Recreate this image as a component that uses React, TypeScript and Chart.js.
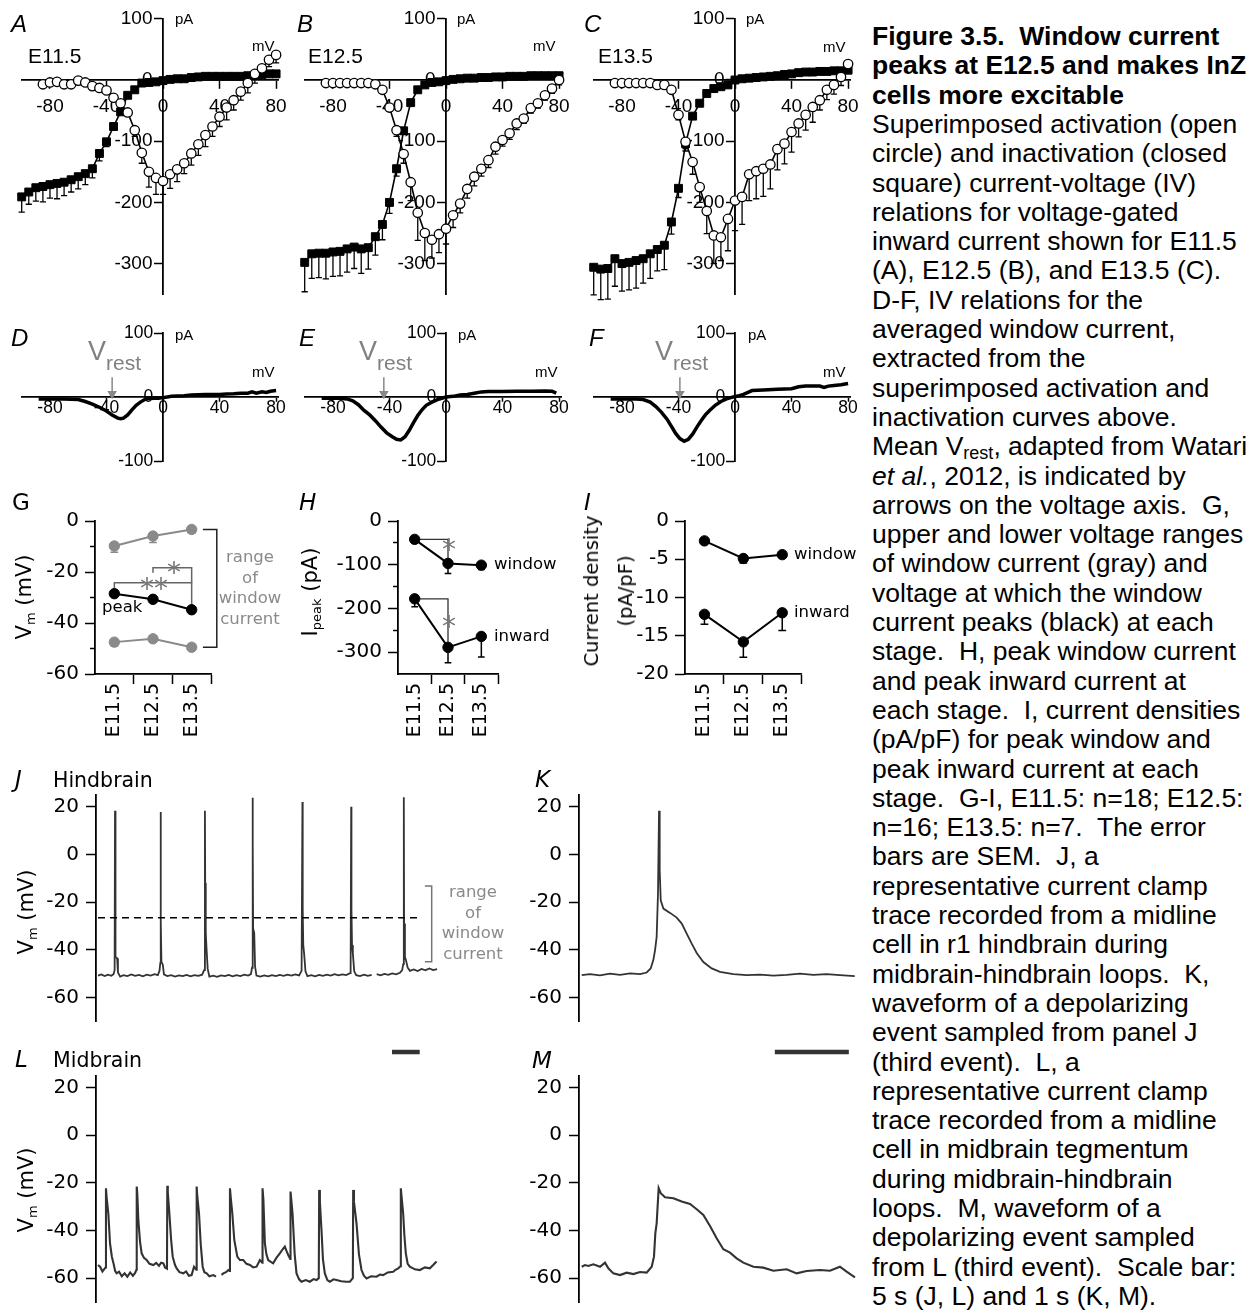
import React, { useEffect, useRef } from 'react';
import { Chart, registerables } from 'chart.js';
Chart.register(...registerables);

const SANS = '"Liberation Sans", Arial, Helvetica, sans-serif';
const DV = '"DejaVu Sans", Verdana, sans-serif';
const GRAY = '#8a8a8a';

// ---------------- A–C : activation (open circles) / inactivation (squares) ----------------
const vAct = [-85, -80, -75, -70, -65, -60, -55, -50, -45, -40, -35, -30, -25, -20, -15, -10, -5, 0, 5, 10, 15, 20, 25, 30, 35, 40, 45, 50, 55, 60, 65, 70, 75, 80];
const vInact = [-100, -95, -90, -85, -80, -75, -70, -65, -60, -55, -50, -45, -40, -35, -30, -25, -20, -15, -10, -5, 0, 5, 10, 15, 20, 25, 30, 35, 40, 45, 50, 55, 60, 65, 70, 75, 80];
const ivXTicks = [-80, -40, 0, 40, 80];
const ivYTicks = [100, 0, -100, -200, -300];

const aAct = [-7, -4, -3, -7, -7, -1, -4, -10, -13, -17, -29, -38, -53, -82, -119, -150, -160, -165, -154, -146, -136, -120, -105, -90, -76, -60, -45, -33, -19, -5, 10, 19, 33, 41];
const aActErr = [0, 0, 0, 0, 0, 0, 0, 2, 2, 3, 4, 5, 6, 10, 17, 25, 27, 22, 23, 20, 17, 19, 18, 19, 16, 16, 20, 16, 14, 16, 15, 12, 11, 13];
const aInact = [-191, -183, -176, -174, -171, -169, -167, -163, -158, -153, -145, -120, -101, -76, -52, -25, -16, -5, -4, -3, -1, 1, 2, 2, 4, 5, 6, 6, 6, 6, 6, 6, 7, 8, 9, 10, 10];
const aInactErr = [25, 20, 22, 25, 22, 25, 22, 20, 20, 18, 15, 12, 8, 5, 3, 2, 0, 0, 0, 0, 0, 0, 0, 0, 0, 0, 0, 0, 0, 0, 0, 0, 0, 0, 0, 0, 0];

const bAct = [-5, -5, -5, -5, -5, -5, -5, -7, -16, -45, -82, -121, -167, -217, -250, -261, -252, -243, -221, -202, -178, -158, -145, -131, -109, -98, -87, -71, -63, -46, -38, -25, -14, 0];
const bActErr = [0, 0, 0, 0, 0, 0, 0, 2, 4, 6, 10, 15, 30, 45, 45, 30, 30, 25, 20, 15, 15, 15, 12, 12, 12, 10, 10, 10, 8, 8, 8, 8, 8, 8];
const bInact = [-298, -284, -283, -283, -281, -280, -276, -273, -276, -274, -256, -236, -200, -145, -83, -37, -16, -8, -4, -3, -1, 1, 2, 3, 3, 4, 4, 5, 5, 6, 6, 6, 7, 7, 7, 7, 7];
const bInactErr = [48, 40, 40, 42, 40, 40, 38, 35, 40, 35, 30, 25, 18, 12, 6, 3, 2, 0, 0, 0, 0, 0, 0, 0, 0, 0, 0, 0, 0, 0, 0, 0, 0, 0, 0, 0, 0];

const cAct = [-5, -5, -5, -5, -5, -5, -8, -8, -16, -57, -101, -134, -175, -214, -254, -257, -227, -197, -191, -154, -149, -145, -138, -113, -104, -85, -71, -57, -44, -33, -16, -8, 5, 26];
const cActErr = [0, 0, 0, 0, 0, 0, 0, 0, 3, 8, 15, 20, 25, 37, 46, 38, 52, 49, 45, 43, 45, 45, 40, 34, 33, 33, 22, 25, 25, 16, 16, 15, 14, 14];
const cInact = [-306, -309, -308, -292, -300, -298, -295, -292, -284, -277, -270, -232, -177, -104, -59, -38, -22, -14, -11, -8, 0, 2, 3, 4, 5, 6, 7, 9, 10, 12, 13, 13, 14, 14, 15, 15, 16];
const cInactErr = [45, 50, 50, 45, 45, 45, 45, 40, 40, 35, 40, 20, 15, 8, 5, 3, 2, 0, 0, 0, 0, 0, 0, 0, 0, 0, 0, 0, 0, 0, 0, 0, 0, 0, 0, 0, 0];

// ---------------- D–F : window current ----------------
const winYTicks = [100, 0, -100];
const dV = [-88, -84, -80, -75, -70, -65, -60, -55, -50, -45, -40, -36, -32, -30, -28, -25, -22, -19, -16, -13, -10, -6, -3, 0, 3, 6, 10, 15, 20, 25, 30, 35, 40, 45, 50, 55, 60, 63, 66, 70, 73, 76, 80];
const dI = [-3, -3, -3, -3, -3, -3.5, -4, -7, -11, -16, -22, -28, -33, -34, -33, -28, -20, -13, -8, -4, -2.5, -2, -2, -1, 0, 1, 1.5, 2, 3, 3.5, 4, 4, 4, 4.5, 5, 6, 6, 8, 6, 8, 7, 9, 10];
const eV = [-88, -80, -75, -70, -66, -62, -58, -54, -50, -46, -42, -38, -35, -32, -29, -26, -23, -20, -17, -14, -10, -6, -3, 0, 5, 10, 15, 20, 25, 30, 40, 50, 60, 70, 75, 78];
const eI = [-2, -2, -2, -3, -6, -12, -21, -28, -37, -47, -56, -62, -66, -67, -62, -52, -40, -29, -20, -13, -8, -4, -2, 0, 1, 3, 4, 6, 8, 8.5, 8.5, 9, 9, 9.5, 9, 6];
const fV = [-88, -80, -70, -65, -60, -56, -52, -48, -45, -42, -39, -36, -33, -30, -27, -24, -21, -18, -14, -10, -6, -3, 0, 3, 6, 10, 12, 20, 30, 40, 45, 50, 60, 63, 66, 70, 75, 80];
const fI = [-3, -3, -3, -4, -8, -15, -24, -35, -46, -57, -65, -69, -66, -58, -47, -37, -28, -21, -13, -7, -3, -1, 1, 2, 4, 8, 10, 11, 12, 13, 16, 17, 17, 15, 17, 18, 19, 21];
const vRest = [-36, -44, -39];

// ---------------- G–I : per-stage summaries ----------------
const stages = ['E11.5', 'E12.5', 'E13.5'];
const stageX = [0, 1, 2];
const gUpper = [-9.8, -5.9, -3.3];
const gUpperErr = [2.5, 2.5, 1.5];
const gPeak = [-28.5, -30.7, -34.8];
const gPeakErr = [0.5, 0.5, 0.5];
const gLower = [-47.5, -46.2, -49.5];
const gLowerErr = [1.5, 1.2, 1.0];
const gSigFrom = [0, 1];
const gSigTo = [2, 2];
const gSigLevel = [-24.2, -18.3];
const gSigLeftEnd = [-26.4, -20.3];
const gSigRightEnd = [-33.5, -24.2];

const hWindow = [-42, -97, -101];
const hWindowErr = [3, 23, 10];
const hInward = [-178, -289, -264];
const hInwardErr = [18, 35, 47];

const iWindow = [-2.6, -4.9, -4.4];
const iWindowErr = [0.2, 0.6, 0.2];
const iInward = [-12.2, -15.8, -12.0];
const iInwardErr = [1.3, 2.0, 2.3];

// ---------------- J–M : current clamp traces (time s, Vm mV) ----------------
const jT = [0, 0.6, 1.2, 1.8, 2.4, 2.8, 3.0, 3.07, 3.12, 3.2, 3.45, 3.6, 4.0, 4.6, 5.3, 6.0, 6.7, 7.4, 8.1, 8.8, 9.5, 10.2, 10.8, 11.1, 11.25, 11.3, 11.35, 11.45, 11.7, 11.9, 12.5, 13.2, 13.9, 14.6, 15.3, 16.0, 16.7, 17.4, 18.1, 18.8, 19.15, 19.3, 19.35, 19.45, 19.6, 19.8, 20.1, 20.8, 21.5, 22.2, 22.9, 23.6, 24.3, 25.0, 25.7, 26.4, 27.1, 27.6, 27.8, 27.9, 27.95, 28.0, 28.2, 28.35, 28.6, 29.3, 30.0, 30.7, 31.4, 32.1, 32.8, 33.5, 34.2, 34.9, 35.6, 36.3, 36.75, 36.9, 36.95, 37.05, 37.2, 37.45, 37.8, 38.5, 39.2, 39.9, 40.6, 41.3, 42.0, 42.7, 43.4, 44.1, 44.8, 45.5, 45.6, 45.7, 45.75, 45.85, 46.0, 46.25, 46.6, 47.3, 48.0, 48.7, 49.4, 49.7, 50.3, 51.0, 51.7, 52.4, 53.1, 53.8, 54.5, 54.9, 55.1, 55.2, 55.25, 55.4, 55.6, 55.9, 56.3, 57.0, 57.7, 58.4, 59.1, 59.8, 60.5, 61.2];
const jV = [-50.8, -50.3, -51.0, -50.4, -50.9, -50.2, -48.5, 18.3, -30, -43, -43.5, -49.5, -51.2, -50.6, -51.0, -50.3, -50.9, -50.5, -51.1, -50.4, -50.8, -50.2, -50.6, -48.8, -45.5, 17.8, -28, -45, -46.2, -50.3, -51.0, -50.6, -51.2, -50.7, -51.0, -50.5, -51.1, -50.6, -50.9, -50.4, -48.5, 18.3, -12, -33, -40, -48, -51.2, -50.8, -51.3, -50.7, -51.0, -50.5, -51.1, -50.6, -51.0, -50.4, -50.8, -50.2, -47.5, 23.8, 5, -31, -33, -47, -50.8, -51.2, -50.7, -51.1, -50.6, -51.0, -50.5, -50.9, -50.4, -50.8, -50.3, -50.7, -48.8, 22, -23, -38, -41.5, -49, -51.0, -50.6, -51.1, -50.5, -50.9, -50.4, -50.8, -50.2, -50.7, -50.3, -50.6, -49.8, -48.0, 20, -23, -38, -41.5, -49, -50.6, -51.0, -50.4, -50.9, -50.5, null, -50.2, -50.7, -50.1, -50.5, -49.9, -50.3, -49.6, -48.5, -46, 24, -29, -43, -44.5, -47.5, -48.8, -48.2, -48.9, -48.0, -48.6, -47.8, -48.5, -48.1];
const jDashLevel = -26.5;
const jDashEnd = 57.8;
const jRangeTop = -13.2;
const jRangeBottom = -45;

const kT = [0, 0.112, 0.247, 0.383, 0.518, 0.653, 0.788, 0.878, 0.932, 0.968, 0.991, 1.013, 1.031, 1.045, 1.054, 1.068, 1.104, 1.194, 1.284, 1.352, 1.419, 1.487, 1.554, 1.644, 1.757, 1.869, 2.049, 2.23, 2.41, 2.59, 2.77, 2.95, 3.13, 3.31, 3.49, 3.69];
const kV = [-50.6, -50.2, -50.7, -50.0, -50.5, -49.9, -50.2, -49.5, -47.8, -44.3, -40.2, -34.6, -16.4, 18.3, -6.6, -19.2, -22.7, -24.5, -26.5, -29.0, -33.2, -37.4, -41.3, -45.1, -47.8, -49.2, -50.2, -50.6, -50.4, -50.8, -50.5, -50.0, -50.5, -50.2, -50.6, -51.0];

const lT = [0, 0.4, 0.8, 1.2, 1.38, 1.44, 1.55, 1.87, 2.17, 2.5, 2.77, 3.1, 3.37, 3.8, 4.3, 4.8, 5.3, 5.8, 6.3, 6.7, 6.93, 6.99, 7.1, 7.28, 7.6, 7.88, 8.3, 8.78, 9.3, 9.99, 10.5, 11.0, 11.4, 11.79, 12.1, 12.45, 12.51, 12.6, 12.88, 13.2, 13.48, 13.9, 14.2, 14.7, 15.4, 15.9, 16.4, 16.9, 17.33, 17.75, 17.81, 17.9, 18.23, 18.55, 18.89, 19.2, 19.61, 20.1, 20.82, 21.3, 21.6, 22.3, 22.62, 23.1, 23.52, 23.76, 23.82, 23.95, 24.24, 24.6, 25.14, 25.6, 26.22, 26.8, 27.42, 28.0, 28.62, 29.22, 29.64, 29.7, 29.85, 30.12, 30.4, 30.72, 31.2, 31.62, 32.2, 32.82, 33.3, 33.72, 34.0, 34.33, 34.7, 34.75, 34.88, 35.11, 35.5, 35.83, 36.3, 36.73, 37.5, 38.24, 38.9, 39.44, 39.85, 39.92, 40.05, 40.34, 40.6, 40.94, 41.4, 41.85, 42.5, 43.05, 43.9, 44.86, 45.46, 46.0, 46.06, 46.2, 46.66, 47.1, 47.56, 48.0, 48.47, 49.3, 50.27, 50.9, 51.47, 52.3, 53.28, 53.7, 54.18, 54.6, 54.66, 54.8, 55.08, 55.3, 55.56, 55.9, 56.28, 57.2, 58.09, 59.0, 59.89, 60.5, 61.1];
const lV = [-54.5, -55.3, -57.2, -56.0, -55.5, -22.3, -26, -33, -45.4, -51, -53.5, -57, -58, -57.3, -59.2, -58.0, -59.4, -57.6, -59.0, -57.8, -56.5, -21.6, -25, -35.6, -45, -49.6, -51.5, -52.4, -54.0, -54.5, -53.6, -54.8, -53.5, -53.8, -55.5, -56, -21.3, -24, -32.8, -44, -51, -54.5, -55.9, -57.5, -58.0, -57.2, -59, -58.7, -55.2, -56.5, -21.6, -25, -32.8, -46, -55.2, -57.5, -58.0, -59.2, -58.7, -59.4, null, -58.6, -58.0, -57.5, -56.6, -57, -22.3, -26, -32.8, -44, -51.0, -52.4, -52.4, -54.0, -54.5, -55.5, -55.2, -52.4, -53.5, -22.3, -27, -45.4, -50, -52.4, -53.2, -53.8, -51.5, -49.6, -48.0, -46.8, -48.5, -50.3, -52, -23.7, -27, -32.8, -50, -58.0, -60.5, -61.5, -60.8, -61.5, -60.4, -60.8, -60, -23.0, -28, -39.8, -52, -58.0, -60.8, -61.5, -60.5, -60.8, -61.3, -61.5, -61.5, -60, -23.0, -28, -37.0, -50, -56.6, -59, -60.1, -59.2, -59.4, -58.5, -58.7, -57.6, -57.3, -56.5, -55.9, -55, -22.3, -26, -32.8, -42, -49.6, -54, -55.2, -56.3, -56.6, -55.5, -55.9, -54.5, -53.0];

const mT = [0, 0.045, 0.09, 0.158, 0.248, 0.315, 0.36, 0.428, 0.518, 0.608, 0.698, 0.788, 0.878, 0.946, 0.977, 0.995, 1.013, 1.04, 1.068, 1.126, 1.239, 1.351, 1.464, 1.554, 1.644, 1.734, 1.824, 1.914, 2.004, 2.094, 2.184, 2.32, 2.454, 2.59, 2.77, 2.905, 3.04, 3.22, 3.355, 3.49, 3.58, 3.693];
const mV = [-55.2, -54.5, -54.9, -54.2, -55.2, -53.5, -55.9, -58.0, -58.7, -57.7, -58.3, -57.4, -57.7, -55.2, -51.0, -41.2, -37.0, -22.3, -24.4, -26.1, -26.5, -27.9, -28.9, -31.1, -33.5, -38.1, -43.3, -47.9, -49.3, -51.7, -53.5, -55.2, -55.6, -56.9, -56.3, -58.0, -57.0, -56.6, -56.9, -55.2, -57.3, -59.7];

const vmTicks = [20, 0, -20, -40, -60];
const scaleBarLevel = 34.8;
const barJLStart = 53.07;
const barJLLength = 5;
const barKMStart = 2.61;
const barKMLength = 1;

// ---------------- helpers ----------------
const zeroPad = (s: any) => { s.paddingTop = 0; s.paddingBottom = 0; s.paddingLeft = 0; s.paddingRight = 0; };
const fixedTicks = (vals: number[]) => (s: any) => { s.ticks = vals.map((v) => ({ value: v })); };
const pts = (xs: number[], ys: (number | null)[]) => xs.map((x, i) => ({ x, y: ys[i] }));

function errPts(xs: number[], ys: number[], es: number[], cap: number) {
  const out: any[] = [];
  xs.forEach((x, i) => {
    const e = es[i];
    if (!e) return;
    const yb = ys[i] - e;
    out.push({ x, y: ys[i] }, { x, y: yb }, { x, y: null }, { x: x - cap, y: yb }, { x: x + cap, y: yb }, { x: x + cap, y: null });
  });
  return out;
}

function baseOpts(padding: any) {
  return {
    responsive: false,
    animation: false as const,
    events: [] as any[],
    devicePixelRatio: 1,
    layout: { padding },
    plugins: { legend: { display: false }, tooltip: { enabled: false }, title: { display: false } },
  };
}

const lineDS = (data: any[], color: string, width: number, extra: any = {}) => ({
  data, showLine: true, borderColor: color, borderWidth: width, pointRadius: 0, clip: false as const, ...extra,
});

function ivScales(ymin: number, ymax: number, yt: number[], fs: number, xtl: number, xpad: number) {
  const font = { family: SANS, size: fs };
  return {
    x: {
      type: 'linear', min: -100, max: 82, position: { y: 0 },
      afterBuildTicks: fixedTicks(ivXTicks), afterFit: zeroPad,
      grid: { drawOnChartArea: false, tickLength: xtl, tickColor: '#000', tickWidth: 1.5 },
      border: { color: '#000', width: 1.8 },
      ticks: { font, color: '#000', padding: xpad, maxRotation: 0, autoSkip: false, callback: (v: any) => String(v) },
    },
    y: {
      type: 'linear', min: ymin, max: ymax, position: { x: 0 },
      afterBuildTicks: fixedTicks(yt), afterFit: zeroPad,
      grid: { drawOnChartArea: false, tickLength: 8, tickColor: '#000', tickWidth: 1.5 },
      border: { color: '#000', width: 1.8 },
      ticks: { font, color: '#000', padding: 0, autoSkip: false, callback: (v: any) => v + '  ' },
    },
  };
}

function ivConfig(act: number[], actErr: number[], inact: number[], inactErr: number[], padding: any) {
  return {
    type: 'scatter',
    data: {
      datasets: [
        lineDS(errPts(vInact, inact, inactErr, 2.2), '#000', 1.3, { order: 6 }),
        lineDS(errPts(vAct, act, actErr, 2.2), '#000', 1.3, { order: 5 }),
        lineDS(pts(vInact, inact), '#000', 1.6, { order: 2, pointStyle: 'rect', pointRadius: 5.6, pointBackgroundColor: '#000', pointBorderColor: '#000', pointBorderWidth: 1 }),
        lineDS(pts(vAct, act), '#000', 1.6, { order: 1, pointStyle: 'circle', pointRadius: 4.7, pointBackgroundColor: '#fff', pointBorderColor: '#000', pointBorderWidth: 1.3 }),
      ],
    },
    options: { ...baseOpts(padding), scales: ivScales(-350, 100, ivYTicks, 19, 8, 7) },
  };
}

function winConfig(vs: number[], is: number[], vr: number, padding: any) {
  return {
    type: 'scatter',
    data: {
      datasets: [
        lineDS(pts(vs, is), '#000', 3.5, { order: 1 }),
        lineDS([{ x: vr, y: 31 }, { x: vr, y: 5 }], '#888', 1.5, { order: 2, pointRadius: [0, 4], pointStyle: 'triangle', pointRotation: 180, pointBackgroundColor: '#888', pointBorderColor: '#888' }),
      ],
    },
    options: { ...baseOpts(padding), scales: ivScales(-100, 100, winYTicks, 17.5, 4, -3) },
  };
}

function catScales(ymin: number, ymax: number, major: number[], minor: number[] | null, yWidth: number, xHeight: number) {
  const scales: any = {
    x: {
      type: 'linear', min: -0.5, max: 2.5, position: 'bottom',
      afterBuildTicks: fixedTicks([0, 0.5, 1, 1.5, 2, 2.5]),
      afterFit: (s: any) => { zeroPad(s); s.height = xHeight; },
      grid: { drawOnChartArea: false, tickLength: 10, tickWidth: 1.5, tickColor: (c: any) => (Number.isInteger(c.tick && c.tick.value) ? 'rgba(0,0,0,0)' : '#000') },
      border: { color: '#000', width: 1.8 },
      ticks: { autoSkip: false, minRotation: 90, maxRotation: 90, padding: -1, font: { family: DV, size: 19 }, color: '#000', callback: (v: any) => (Number.isInteger(v) ? stages[v] : '') },
    },
    y: {
      type: 'linear', min: ymin, max: ymax, position: 'left', weight: 10,
      afterBuildTicks: fixedTicks(major),
      afterFit: (s: any) => { zeroPad(s); s.width = yWidth; },
      grid: { drawOnChartArea: false, tickLength: 10, tickWidth: 1.5, tickColor: '#000' },
      border: { color: '#000', width: 1.8 },
      ticks: { padding: 6, autoSkip: false, font: { family: DV, size: 20 }, color: '#000' },
    },
  };
  if (minor) {
    scales.ym = {
      type: 'linear', min: ymin, max: ymax, position: 'left', weight: 0,
      afterBuildTicks: fixedTicks(minor),
      afterFit: (s: any) => { zeroPad(s); s.width = 0; },
      grid: { drawOnChartArea: false, tickLength: 5, tickWidth: 1.5, tickColor: '#000' },
      border: { display: false },
      ticks: { display: false },
    };
  }
  return scales;
}

const dotDS = (ys: number[], color: string) =>
  lineDS(pts(stageX, ys), color, 2, { order: 1, pointRadius: 5.2, pointBackgroundColor: color, pointBorderColor: color, pointBorderWidth: 1 });
const errDS = (ys: number[], es: number[], color: string) => lineDS(errPts(stageX, ys, es, 0.1), color, 1.5, { order: 5 });

function gConfig() {
  const sig = gSigFrom.map((f, i) =>
    lineDS([{ x: f, y: gSigLeftEnd[i] }, { x: f, y: gSigLevel[i] }, { x: gSigTo[i], y: gSigLevel[i] }, { x: gSigTo[i], y: gSigRightEnd[i] }], '#666', 1.5, { order: 3 })
  );
  const range = lineDS([{ x: 2.29, y: gUpper[2] }, { x: 2.65, y: gUpper[2] }, { x: 2.65, y: gLower[2] }, { x: 2.29, y: gLower[2] }], '#222', 1.5, { order: 3 });
  return {
    type: 'scatter',
    data: { datasets: [errDS(gUpper, gUpperErr, GRAY), errDS(gLower, gLowerErr, GRAY), errDS(gPeak, gPeakErr, '#000'), dotDS(gUpper, GRAY), dotDS(gLower, GRAY), dotDS(gPeak, '#000'), ...sig, range] },
    options: { ...baseOpts({ left: 0, top: 21, right: 89, bottom: 5 }), scales: catScales(-60, 0, [0, -20, -40, -60], [-10, -30, -50], 95, 86) },
  };
}

function hConfig() {
  const b1 = lineDS([{ x: 0, y: hWindow[0] }, { x: 1, y: hWindow[0] }, { x: 1, y: hWindow[1] }], '#333', 1.3, { order: 3 });
  const b2 = lineDS([{ x: 0, y: hInward[0] }, { x: 1, y: hInward[0] }, { x: 1, y: hInward[1] }], '#333', 1.3, { order: 3 });
  return {
    type: 'scatter',
    data: { datasets: [errDS(hWindow, hWindowErr, '#000'), errDS(hInward, hInwardErr, '#000'), dotDS(hWindow, '#000'), dotDS(hInward, '#000'), b1, b2] },
    options: { ...baseOpts({ left: 0, top: 21, right: 72, bottom: 5 }), scales: catScales(-350, 0, [0, -100, -200, -300], [-50, -150, -250], 108, 86) },
  };
}

function iConfig() {
  return {
    type: 'scatter',
    data: { datasets: [errDS(iWindow, iWindowErr, '#000'), errDS(iInward, iInwardErr, '#000'), dotDS(iWindow, '#000'), dotDS(iInward, '#000')] },
    options: { ...baseOpts({ left: 0, top: 21, right: 58.3, bottom: 5 }), scales: catScales(-20, 0, [0, -5, -10, -15, -20], null, 115, 86) },
  };
}

function traceConfig(ts: number[], vs: (number | null)[], xmin: number, xmax: number, yWidth: number, padding: any, lw: number, extra: any[]) {
  return {
    type: 'scatter',
    data: { datasets: [lineDS(pts(ts, vs), '#333', lw, { order: 2 }), ...extra] },
    options: {
      ...baseOpts(padding),
      scales: {
        x: { type: 'linear', display: false, min: xmin, max: xmax },
        y: {
          type: 'linear', min: -70, max: 25, position: 'left',
          afterBuildTicks: fixedTicks(vmTicks),
          afterFit: (s: any) => { zeroPad(s); s.width = yWidth; },
          grid: { drawOnChartArea: false, tickLength: 10, tickWidth: 1.5, tickColor: '#000' },
          border: { color: '#000', width: 1.8 },
          ticks: { padding: 7, autoSkip: false, font: { family: DV, size: 20 }, color: '#000' },
        },
      },
    },
  };
}

const J_MIN = -0.361, J_MAX = 61.73, K_MIN = -0.0365, K_MAX = 3.734;

function ChartCanvas({ left, top, width, height, build }: { left: number; top: number; width: number; height: number; build: () => any }) {
  const ref = useRef<HTMLCanvasElement>(null);
  useEffect(() => {
    const chart = new Chart(ref.current as HTMLCanvasElement, build());
    return () => chart.destroy();
  }, []);
  return <canvas ref={ref} width={width} height={height} style={{ position: 'absolute', left, top, width, height }} />;
}

function T({ x, y, size, children, family = SANS, italic = false, bold = false, color = '#000', anchor = 'start' }: any) {
  const tx = anchor === 'middle' ? '-50%' : anchor === 'end' ? '-100%' : '0';
  return (
    <div style={{ position: 'absolute', left: x, top: y - 0.846 * size, fontSize: size, lineHeight: `${size}px`, fontFamily: family, fontStyle: italic ? 'italic' : 'normal', fontWeight: bold ? 'bold' : 'normal', color, whiteSpace: 'nowrap', transform: `translateX(${tx})` }}>
      {children}
    </div>
  );
}

function R({ cx, cy, size, children, family = DV, lineHeight = 1.2 }: any) {
  return (
    <div style={{ position: 'absolute', left: cx, top: cy, transform: 'translate(-50%,-50%) rotate(-90deg)', fontSize: size, fontFamily: family, whiteSpace: 'nowrap', lineHeight, textAlign: 'center', color: '#000' }}>
      {children}
    </div>
  );
}

const subStyle: any = { fontSize: '0.62em', verticalAlign: '-0.25em', lineHeight: 0 };

const captionLines = [
  'Figure 3.5.  Window current',
  'peaks at E12.5 and makes InZ',
  'cells more excitable',
  'Superimposed activation (open',
  'circle) and inactivation (closed',
  'square) current-voltage (IV)',
  'relations for voltage-gated',
  'inward current shown for E11.5',
  '(A), E12.5 (B), and E13.5 (C).',
  'D-F, IV relations for the',
  'averaged window current,',
  'extracted from the',
  'superimposed activation and',
  'inactivation curves above.',
  'Mean V|rest|, adapted from Watari',
  '*et al.*, 2012, is indicated by',
  'arrows on the voltage axis.  G,',
  'upper and lower voltage ranges',
  'of window current (gray) and',
  'voltage at which the window',
  'current peaks (black) at each',
  'stage.  H, peak window current',
  'and peak inward current at',
  'each stage.  I, current densities',
  '(pA/pF) for peak window and',
  'peak inward current at each',
  'stage.  G-I, E11.5: n=18; E12.5:',
  'n=16; E13.5: n=7.  The error',
  'bars are SEM.  J, a',
  'representative current clamp',
  'trace recorded from a midline',
  'cell in r1 hindbrain during',
  'midbrain-hindbrain loops.  K,',
  'waveform of a depolarizing',
  'event sampled from panel J',
  '(third event).  L, a',
  'representative current clamp',
  'trace recorded from a midline',
  'cell in midbrain tegmentum',
  'during midbrain-hindbrain',
  'loops.  M, waveform of a',
  'depolarizing event sampled',
  'from L (third event).  Scale bar:',
  '5 s (J, L) and 1 s (K, M).',
];

function captionContent(line: string) {
  if (line.includes('|')) {
    const [a, b, c] = line.split('|');
    return <>{a}<span style={{ fontSize: '0.68em', verticalAlign: '-0.2em', lineHeight: 0 }}>{b}</span>{c}</>;
  }
  if (line.startsWith('*')) {
    const [, a, b] = line.split('*');
    return <><i>{a}</i>{b}</>;
  }
  return line;
}

function Vrest({ x, y }: { x: number; y: number }) {
  return (
    <>
      <T x={x} y={y} size={27} color="#808080">V</T>
      <T x={x + 18} y={y + 9} size={21} color="#808080">rest</T>
    </>
  );
}

function RangeText({ cx, y0 }: { cx: number; y0: number }) {
  return (
    <>
      {['range', 'of', 'window', 'current'].map((w, i) => (
        <T key={w} x={cx} y={y0 + i * 20.7} size={16.5} family={DV} color={GRAY} anchor="middle">{w}</T>
      ))}
    </>
  );
}

export default function App() {
  useEffect(() => {
    document.body.style.margin = '0';
    document.documentElement.style.overflow = 'hidden';
  }, []);
  const star = (x: number, cy: number, s: string) => (
    <T x={x} y={cy + 16} size={28} family={DV} color="#777" anchor="middle">{s}</T>
  );
  return (
    <div style={{ position: 'absolute', left: 0, top: 0, width: 1260, height: 1313, background: '#fff', overflow: 'hidden', fontFamily: SANS }}>
      {/* Row 1: A-C */}
      <ChartCanvas left={0} top={0} width={290} height={310} build={() => ivConfig(aAct, aActErr, aInact, aInactErr, { left: 21.7, top: 18.8, right: 11.1, bottom: 15.8 })} />
      <ChartCanvas left={290} top={0} width={290} height={310} build={() => ivConfig(bAct, bActErr, bInact, bInactErr, { left: 14.7, top: 18.8, right: 18.1, bottom: 15.8 })} />
      <ChartCanvas left={580} top={0} width={290} height={310} build={() => ivConfig(cAct, cActErr, cInact, cInactErr, { left: 13.7, top: 18.8, right: 19.1, bottom: 15.8 })} />
      <T x={11} y={32} size={24} italic>A</T>
      <T x={297} y={32} size={24} italic>B</T>
      <T x={584} y={32} size={24} italic>C</T>
      <T x={28} y={63} size={21}>E11.5</T>
      <T x={308} y={63} size={21}>E12.5</T>
      <T x={598} y={63} size={21}>E13.5</T>
      <T x={175} y={24} size={15}>pA</T>
      <T x={457} y={24} size={15}>pA</T>
      <T x={746} y={24} size={15}>pA</T>
      <T x={252} y={51} size={15}>mV</T>
      <T x={533} y={51} size={15}>mV</T>
      <T x={823} y={52} size={15}>mV</T>

      {/* Row 2: D-F */}
      <ChartCanvas left={0} top={320} width={290} height={155} build={() => winConfig(dV, dI, vRest[0], { left: 21.7, top: 13, right: 11.1, bottom: 14 })} />
      <ChartCanvas left={290} top={320} width={290} height={155} build={() => winConfig(eV, eI, vRest[1], { left: 14.7, top: 13, right: 18.1, bottom: 14 })} />
      <ChartCanvas left={580} top={320} width={290} height={155} build={() => winConfig(fV, fI, vRest[2], { left: 13.7, top: 13, right: 19.1, bottom: 14 })} />
      <T x={11} y={346} size={24} italic>D</T>
      <T x={299} y={346} size={24} italic>E</T>
      <T x={589} y={346} size={24} italic>F</T>
      <T x={175} y={340} size={15}>pA</T>
      <T x={458} y={340} size={15}>pA</T>
      <T x={748} y={340} size={15}>pA</T>
      <T x={252} y={377} size={15}>mV</T>
      <T x={535} y={377} size={15}>mV</T>
      <T x={823} y={377} size={15}>mV</T>
      <Vrest x={88} y={361} />
      <Vrest x={359} y={361} />
      <Vrest x={655} y={361} />

      {/* Row 3: G-I */}
      <ChartCanvas left={0} top={500} width={300} height={265} build={gConfig} />
      <ChartCanvas left={290} top={500} width={280} height={265} build={hConfig} />
      <ChartCanvas left={570} top={500} width={290} height={265} build={iConfig} />
      <T x={12} y={510} size={23} family={DV}>G</T>
      <T x={299} y={510} size={23} family={DV} italic>H</T>
      <T x={584} y={510} size={23} family={DV} italic>I</T>
      <R cx={25} cy={597} size={21}>V<span style={subStyle}>m</span> (mV)</R>
      <R cx={311} cy={592} size={21}>I<span style={subStyle}>peak</span> (pA)</R>
      <R cx={609} cy={591} size={19.5} lineHeight="34px">Current density<br />(pA/pF)</R>
      <T x={102} y={613} size={16.5} family={DV}>peak</T>
      {star(154, 583, '**')}
      {star(174, 567, '*')}
      <RangeText cx={250} y0={563} />
      {star(449, 544, '*')}
      {star(449, 621, '*')}
      <T x={494} y={570} size={16.5} family={DV}>window</T>
      <T x={494} y={642} size={16.5} family={DV}>inward</T>
      <T x={794} y={560} size={16.5} family={DV}>window</T>
      <T x={794} y={618} size={16.5} family={DV}>inward</T>

      {/* Row 4-5: J-M */}
      <ChartCanvas left={0} top={780} width={500} height={265} build={() => traceConfig(jT, jV, J_MIN, J_MAX, 96, { left: 0, top: 14.8, right: 60, bottom: 23.6 }, 1.8, [
        lineDS([{ x: 0, y: jDashLevel }, { x: jDashEnd, y: jDashLevel }], '#000', 1.5, { order: 1, borderDash: [7, 5] }),
        lineDS([{ x: 59.0, y: jRangeTop }, { x: 60.23, y: jRangeTop }, { x: 60.23, y: jRangeBottom }, { x: 59.0, y: jRangeBottom }], '#777', 1.5, { order: 1 }),
      ])} />
      <ChartCanvas left={500} top={780} width={370} height={265} build={() => traceConfig(kT, kV, K_MIN, K_MAX, 79, { left: 0, top: 14.8, right: 12, bottom: 23.6 }, 1.8, [])} />
      <ChartCanvas left={0} top={1040} width={500} height={273} build={() => traceConfig(lT, lV, J_MIN, J_MAX, 96, { left: 0, top: 35.4, right: 60, bottom: 11 }, 2.1, [
        lineDS([{ x: barJLStart, y: scaleBarLevel }, { x: barJLStart + barJLLength, y: scaleBarLevel }], '#333', 4.5, { order: 1 }),
      ])} />
      <ChartCanvas left={500} top={1040} width={370} height={273} build={() => traceConfig(mT, mV, K_MIN, K_MAX, 79, { left: 0, top: 35.4, right: 12, bottom: 11 }, 2.1, [
        lineDS([{ x: barKMStart, y: scaleBarLevel }, { x: barKMStart + barKMLength, y: scaleBarLevel }], '#333', 4.5, { order: 1 }),
      ])} />
      <T x={15} y={787} size={23} family={DV} italic>J</T>
      <T x={53} y={787} size={20.5} family={DV}>Hindbrain</T>
      <T x={535} y={787} size={23} family={DV} italic>K</T>
      <T x={15} y={1067} size={23} family={DV} italic>L</T>
      <T x={53} y={1067} size={20.5} family={DV}>Midbrain</T>
      <T x={532} y={1068} size={23} family={DV} italic>M</T>
      <R cx={27} cy={912} size={21}>V<span style={subStyle}>m</span> (mV)</R>
      <R cx={27} cy={1190} size={21}>V<span style={subStyle}>m</span> (mV)</R>
      <RangeText cx={473} y0={898} />

      {/* Caption */}
      {captionLines.map((line, i) => (
        <div key={i} style={{ position: 'absolute', left: 872, top: 22 + i * 29.3, fontSize: 26.5, lineHeight: '29.3px', fontFamily: SANS, fontWeight: i < 3 ? 'bold' : 'normal', whiteSpace: 'pre', color: '#000' }}>
          {captionContent(line)}
        </div>
      ))}
    </div>
  );
}
